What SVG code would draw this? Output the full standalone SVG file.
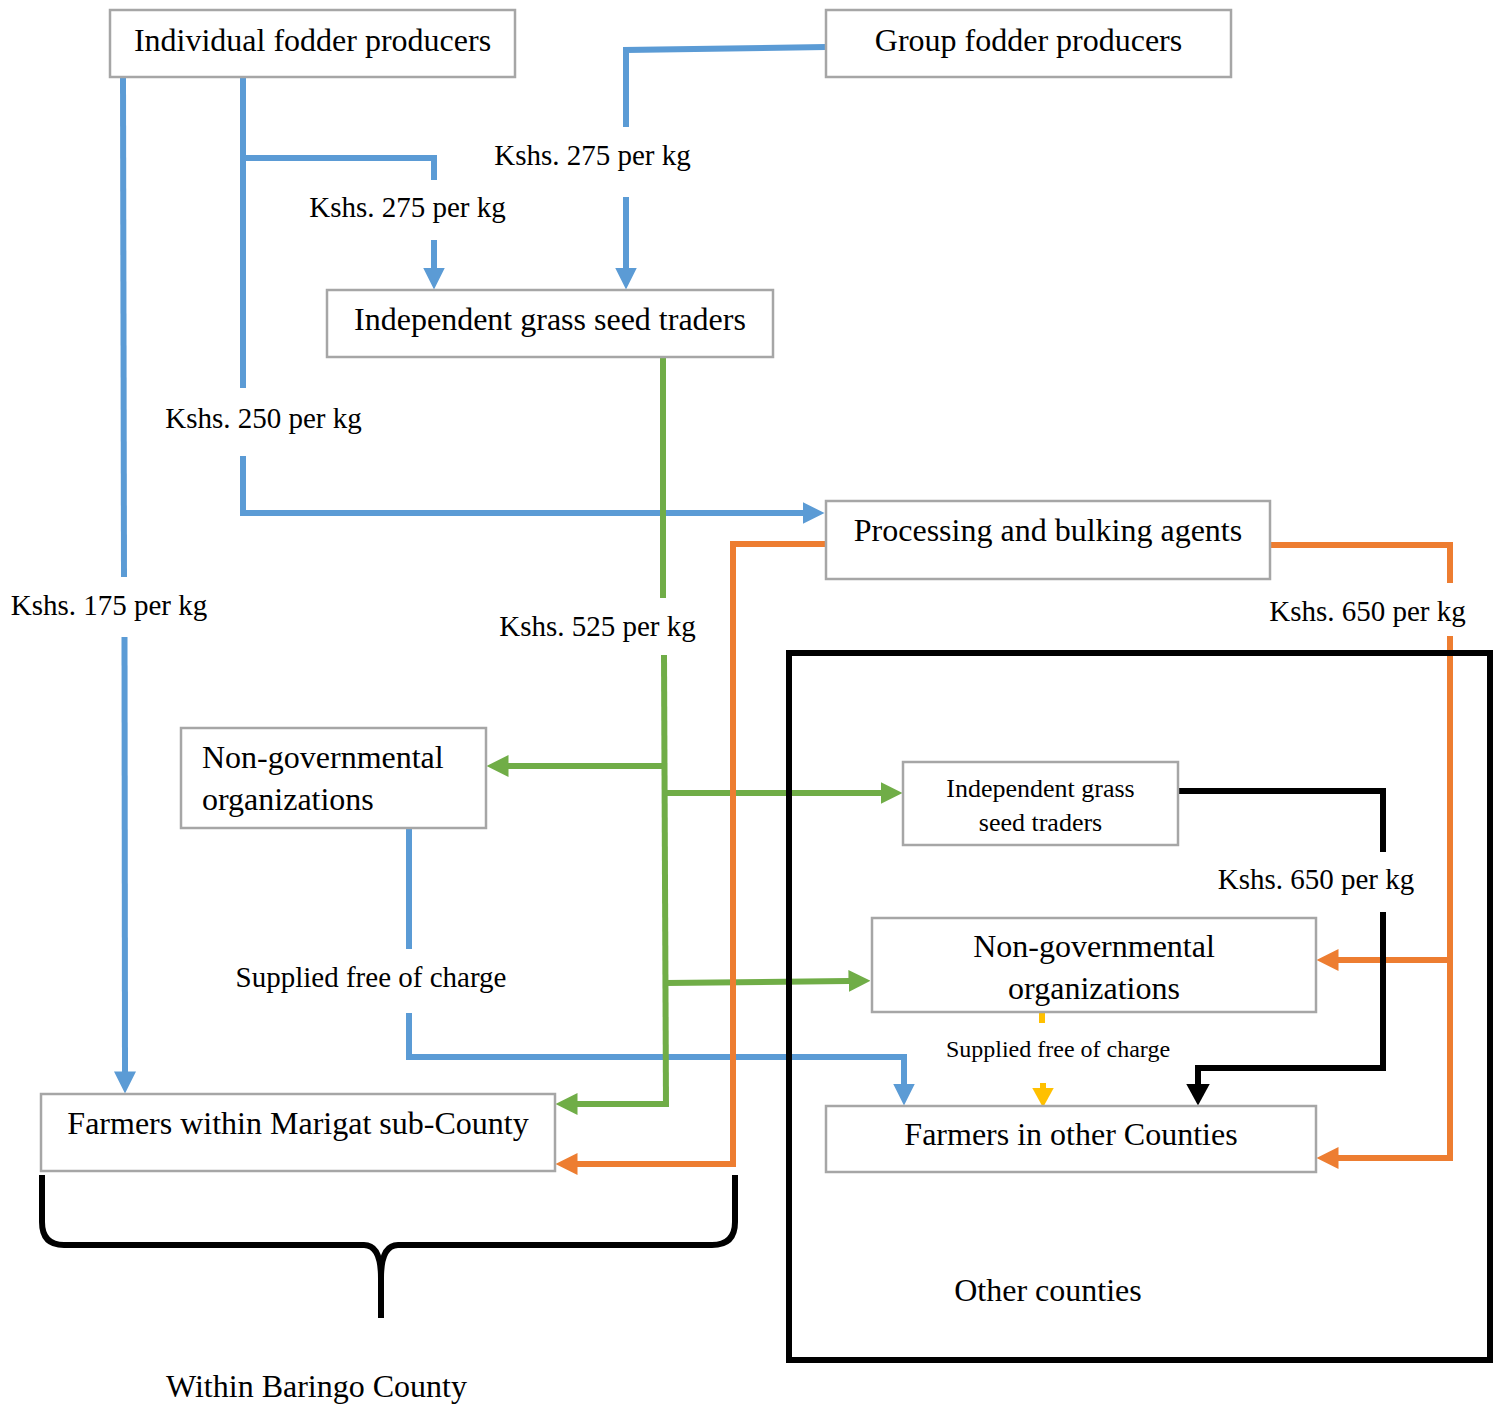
<svg xmlns="http://www.w3.org/2000/svg" width="1504" height="1408" viewBox="0 0 1504 1408">
  <style>
    text { font-family: "Liberation Serif", "Times New Roman", serif; fill: #000; }
    .node rect { fill: #fff; stroke: #a6a6a6; stroke-width: 2.5; }
    .box { font-size: 32px; text-anchor: middle; }
    .boxl { font-size: 32px; }
    .small { font-size: 26px; text-anchor: middle; }
    .lbl { font-size: 29px; text-anchor: middle; }
    .lbls { font-size: 24px; text-anchor: middle; }
    .ln { fill: none; stroke-width: 6; stroke-linejoin: miter; stroke-linecap: butt; }
    .blue { stroke: #5b9bd5; }
    .green { stroke: #70ad47; }
    .orange { stroke: #ed7d31; }
    .black { stroke: #000; }
    .yellow { stroke: #ffc000; }
  </style>
  <defs>
    <marker id="ah-blue" viewBox="0 -11 22 22" refX="0.5" refY="0" markerWidth="22" markerHeight="22" markerUnits="userSpaceOnUse" orient="auto">
      <path d="M0,-11 L22,0 L0,11 z" fill="#5b9bd5"/>
    </marker>
    <marker id="ah-green" viewBox="0 -11 22 22" refX="0.5" refY="0" markerWidth="22" markerHeight="22" markerUnits="userSpaceOnUse" orient="auto">
      <path d="M0,-11 L22,0 L0,11 z" fill="#70ad47"/>
    </marker>
    <marker id="ah-orange" viewBox="0 -11 22 22" refX="0.5" refY="0" markerWidth="22" markerHeight="22" markerUnits="userSpaceOnUse" orient="auto">
      <path d="M0,-11 L22,0 L0,11 z" fill="#ed7d31"/>
    </marker>
    <marker id="ah-black" viewBox="0 -12 22 24" refX="0.5" refY="0" markerWidth="22" markerHeight="24" markerUnits="userSpaceOnUse" orient="auto">
      <path d="M0,-12 L22,0 L0,12 z" fill="#000"/>
    </marker>
    <marker id="ah-yellow" viewBox="0 -11 20 22" refX="0.5" refY="0" markerWidth="20" markerHeight="22" markerUnits="userSpaceOnUse" orient="auto">
      <path d="M0,-11 L20,0 L0,11 z" fill="#ffc000"/>
    </marker>
  </defs>

  <rect width="1504" height="1408" fill="#fff"/>

  <!-- Flow connectors -->
  <g id="connectors">
    <!-- blue: fodder producers -->
    <path class="ln blue" d="M123,77 L124,577"/>
    <path class="ln blue" d="M124.5,637 L125,1072" marker-end="url(#ah-blue)"/>
    <path class="ln blue" d="M243,77 L243,388"/>
    <path class="ln blue" d="M243,456 L243,513 L803,513" marker-end="url(#ah-blue)"/>
    <path class="ln blue" d="M243,158 L434,158 L434,180"/>
    <path class="ln blue" d="M434,240 L434,268" marker-end="url(#ah-blue)"/>
    <path class="ln blue" d="M826,47 L626,50 L626,127"/>
    <path class="ln blue" d="M626,197 L626,268" marker-end="url(#ah-blue)"/>
    <path class="ln blue" d="M409,828 L409,949"/>
    <path class="ln blue" d="M409,1013 L409,1057 L904,1057 L904,1084" marker-end="url(#ah-blue)"/>

    <!-- green: independent grass seed traders -->
    <path class="ln green" d="M663,357 L663,598"/>
    <path class="ln green" d="M664,655 L666,1107"/>
    <path class="ln green" d="M669,1104 L577,1104" marker-end="url(#ah-green)"/>
    <path class="ln green" d="M663,766 L508,766" marker-end="url(#ah-green)"/>
    <path class="ln green" d="M663,793 L881,793" marker-end="url(#ah-green)"/>
    <path class="ln green" d="M666,983 L849,981" marker-end="url(#ah-green)"/>

    <!-- orange: processing and bulking agents -->
    <path class="ln orange" d="M826,544 L733,544 L733,1164 L577,1164" marker-end="url(#ah-orange)"/>
    <path class="ln orange" d="M1270,545 L1450,545 L1450,583"/>
    <path class="ln orange" d="M1450,636 L1450,1158 L1338,1158" marker-end="url(#ah-orange)"/>
    <path class="ln orange" d="M1450,960 L1338,960" marker-end="url(#ah-orange)"/>

    <!-- black: traders in other counties -->
    <path class="ln black" d="M1178,791 L1383,791 L1383,852"/>
    <path class="ln black" d="M1383,912 L1383,1068 L1198,1068 L1198,1084" marker-end="url(#ah-black)"/>

    <!-- yellow: NGO supply to other counties -->
    <path class="ln yellow" d="M1042,1013 L1042,1023"/>
    <path class="ln yellow" d="M1043,1083 L1043,1088" marker-end="url(#ah-yellow)"/>

    <!-- price labels -->
    <text class="lbl" x="407.5" y="217">Kshs. 275 per kg</text>
    <text class="lbl" x="592.5" y="165">Kshs. 275 per kg</text>
    <text class="lbl" x="263.5" y="428">Kshs. 250 per kg</text>
    <text class="lbl" x="109" y="615">Kshs. 175 per kg</text>
    <text class="lbl" x="597.5" y="636">Kshs. 525 per kg</text>
    <text class="lbl" x="1367.5" y="621">Kshs. 650 per kg</text>
    <text class="lbl" x="1316" y="889">Kshs. 650 per kg</text>
    <text class="lbl" x="371" y="987">Supplied free of charge</text>
    <text class="lbls" x="1058" y="1057">Supplied free of charge</text>
  </g>

  <!-- Other counties boundary -->
  <g id="region-other-counties">
    <rect x="789" y="653" width="701" height="707" fill="none" stroke="#000" stroke-width="6"/>
    <text class="box" x="1048" y="1301">Other counties</text>
  </g>

  <!-- Baringo County brace -->
  <g id="region-baringo">
    <path d="M42,1175 L42,1222 Q42,1245 64,1245 L364,1245 Q381,1245 381,1278 L381,1318 M381,1278 Q381,1245 398,1245 L712,1245 Q735,1245 735,1222 L735,1175" fill="none" stroke="#000" stroke-width="6"/>
    <text class="box" x="316.5" y="1397">Within Baringo County</text>
  </g>

  <!-- Nodes -->
  <g id="individual-fodder-producers" class="node">
    <rect x="110" y="10" width="405" height="67"/>
    <text class="box" x="312.5" y="51">Individual fodder producers</text>
  </g>
  <g id="group-fodder-producers" class="node">
    <rect x="826" y="10" width="405" height="67"/>
    <text class="box" x="1028.5" y="51">Group fodder producers</text>
  </g>
  <g id="independent-grass-seed-traders" class="node">
    <rect x="327" y="290" width="446" height="67"/>
    <text class="box" x="550" y="330">Independent grass seed traders</text>
  </g>
  <g id="processing-bulking-agents" class="node">
    <rect x="826" y="501" width="444" height="78"/>
    <text class="box" x="1048" y="541">Processing and bulking agents</text>
  </g>
  <g id="ngo-baringo" class="node">
    <rect x="181" y="728" width="305" height="100"/>
    <text class="boxl" x="202" y="768">Non-governmental</text>
    <text class="boxl" x="202" y="810">organizations</text>
  </g>
  <g id="traders-other-counties" class="node">
    <rect x="903" y="762" width="275" height="83"/>
    <text class="small" x="1040.5" y="797">Independent grass</text>
    <text class="small" x="1040.5" y="831">seed traders</text>
  </g>
  <g id="ngo-other-counties" class="node">
    <rect x="872" y="918" width="444" height="94"/>
    <text class="box" x="1094" y="957">Non-governmental</text>
    <text class="box" x="1094" y="999">organizations</text>
  </g>
  <g id="farmers-marigat" class="node">
    <rect x="41" y="1094" width="514" height="77"/>
    <text class="box" x="298" y="1134">Farmers within Marigat sub-County</text>
  </g>
  <g id="farmers-other-counties" class="node">
    <rect x="826" y="1106" width="490" height="66"/>
    <text class="box" x="1071" y="1145">Farmers in other Counties</text>
  </g>
</svg>
